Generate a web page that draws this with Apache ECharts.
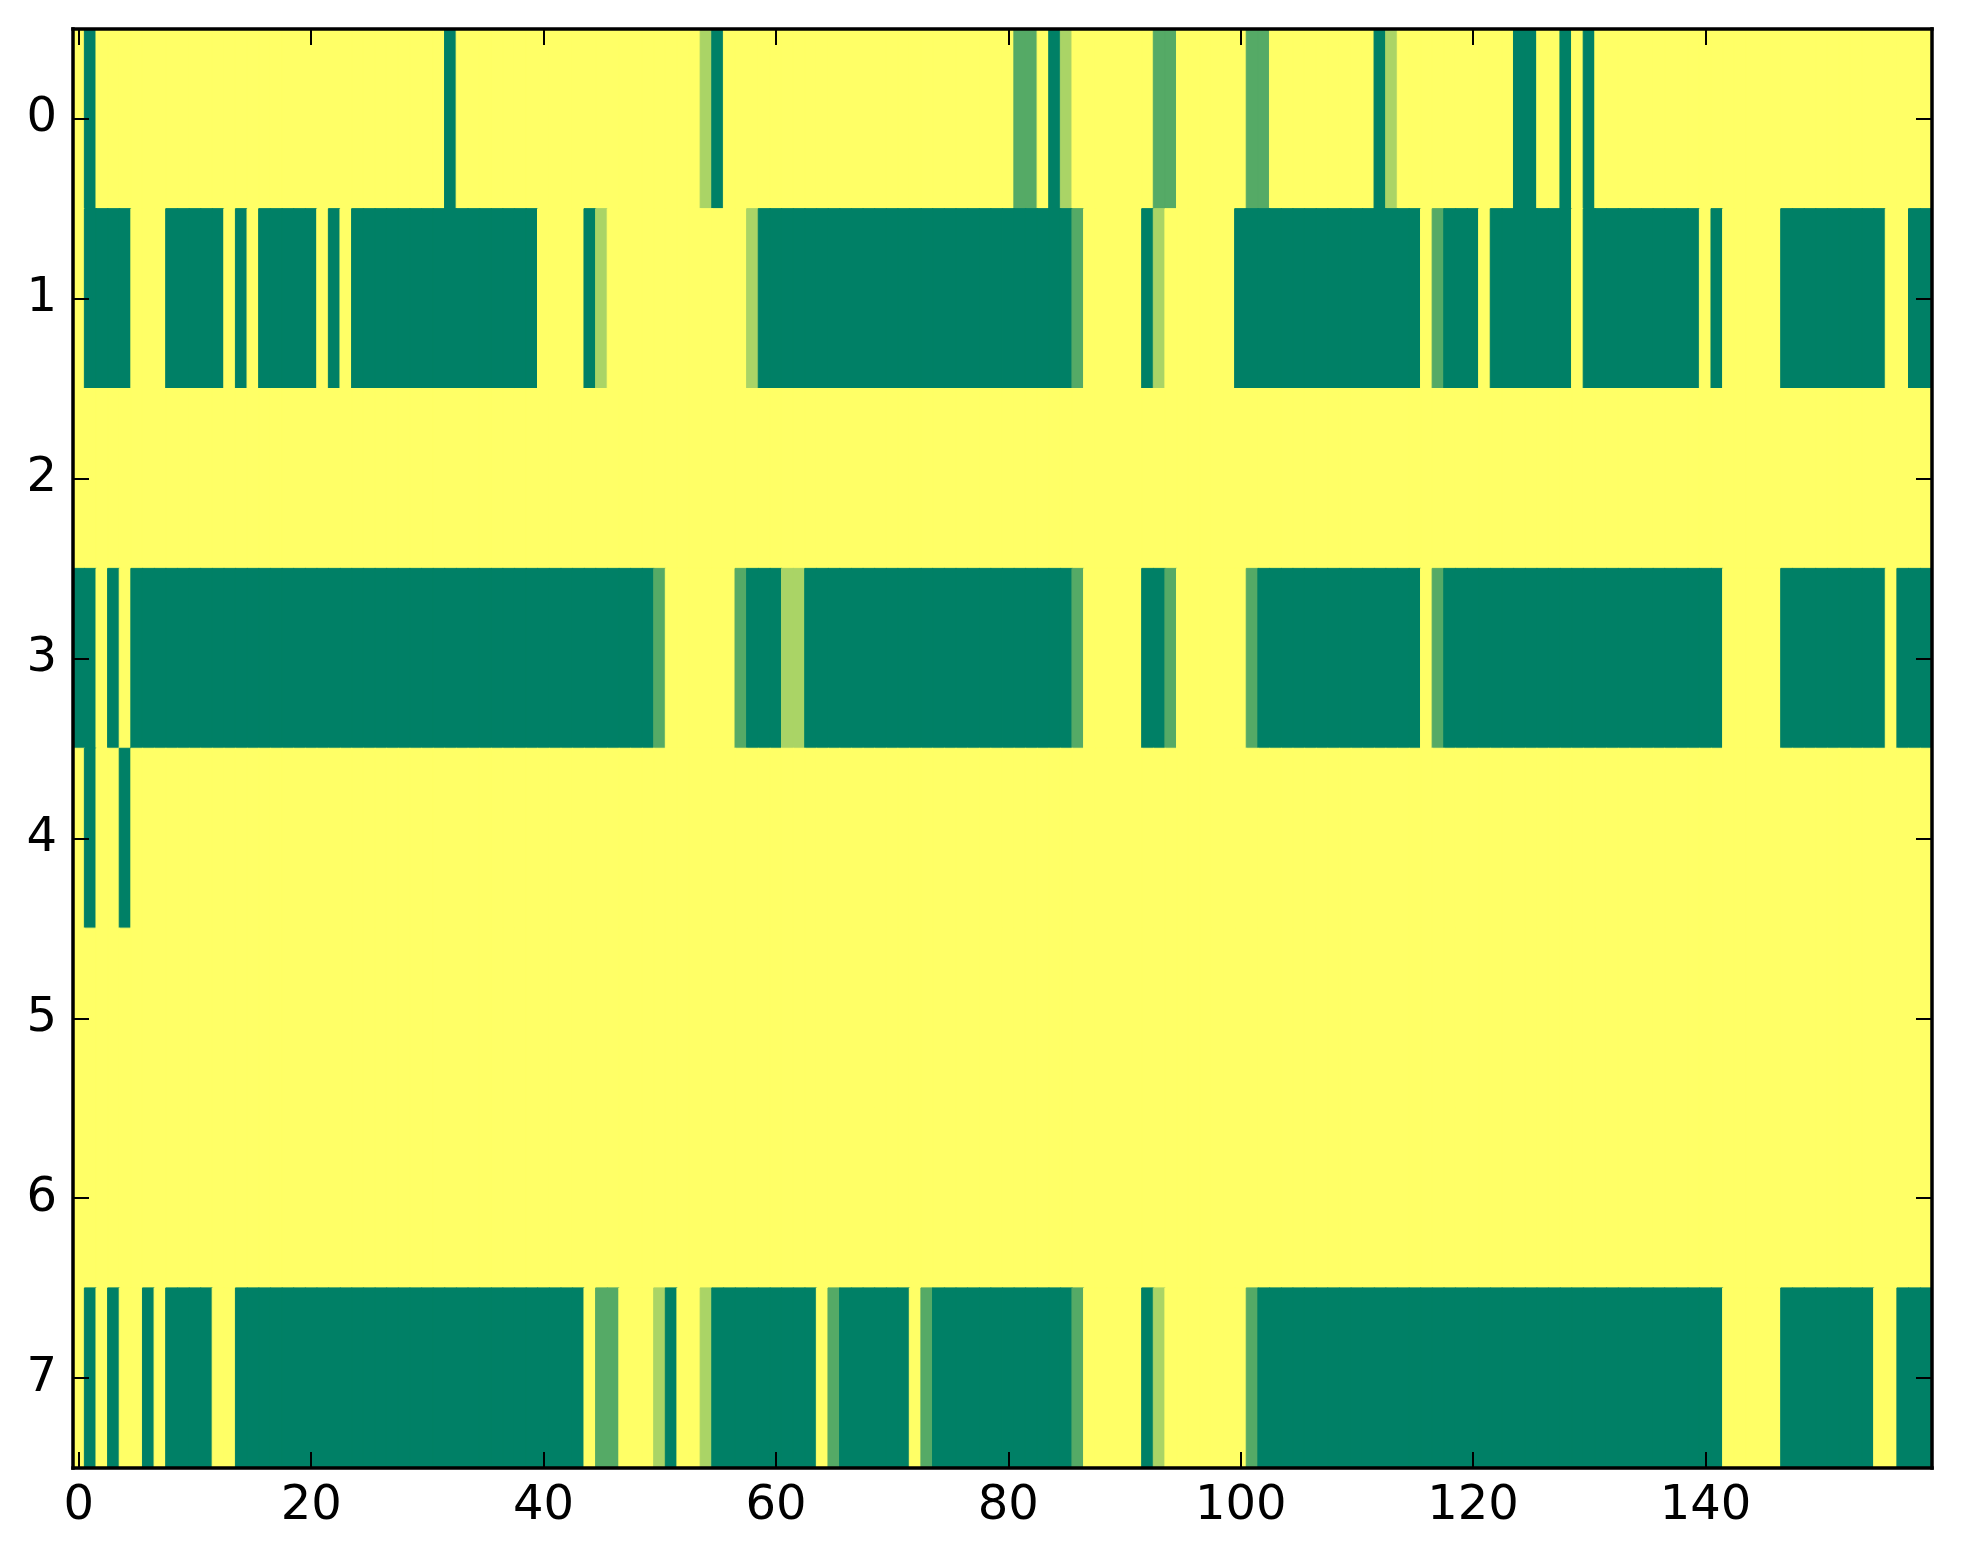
<!DOCTYPE html>
<html>
<head>
<meta charset="utf-8">
<script src="https://cdn.jsdelivr.net/npm/echarts@6/dist/echarts.min.js"></script>
<style>
html,body{margin:0;padding:0;background:#fff;}
#chart{width:1963px;height:1564px;}
</style>
</head>
<body>
<div id="chart"></div>
<script>
// Cell levels: 0 = darkest green ... 3 = yellow (summer colormap)
const row0 = [3,0,3,3,3,3,3,3,3,3, 3,3,3,3,3,3,3,3,3,3, 3,3,3,3,3,3,3,3,3,3, 3,3,0,3,3,3,3,3,3,3,
              3,3,3,3,3,3,3,3,3,3, 3,3,3,3,2,0,3,3,3,3, 3,3,3,3,3,3,3,3,3,3, 3,3,3,3,3,3,3,3,3,3,
              3,1,1,3,0,2,3,3,3,3, 3,3,3,1,1,3,3,3,3,3, 3,1,1,3,3,3,3,3,3,3, 3,3,0,2,3,3,3,3,3,3,
              3,3,3,3,0,0,3,3,0,3, 0,3,3,3,3,3,3,3,3,3, 3,3,3,3,3,3,3,3,3,3, 3,3,3,3,3,3,3,3,3,3];
const row1 = [3,0,0,0,0,3,3,3,0,0, 0,0,0,3,0,3,0,0,0,0, 0,3,0,3,0,0,0,0,0,0, 0,0,0,0,0,0,0,0,0,0,
              3,3,3,3,0,2,3,3,3,3, 3,3,3,3,3,3,3,3,2,0, 0,0,0,0,0,0,0,0,0,0, 0,0,0,0,0,0,0,0,0,0,
              0,0,0,0,0,0,1,3,3,3, 3,3,0,2,3,3,3,3,3,3, 0,0,0,0,0,0,0,0,0,0, 0,0,0,0,0,0,3,1,0,0,
              0,3,0,0,0,0,0,0,0,3, 0,0,0,0,0,0,0,0,0,0, 3,0,3,3,3,3,3,0,0,0, 0,0,0,0,0,0,3,3,0,0];
const row2 = [3,3,3,3,3,3,3,3,3,3, 3,3,3,3,3,3,3,3,3,3, 3,3,3,3,3,3,3,3,3,3, 3,3,3,3,3,3,3,3,3,3,
              3,3,3,3,3,3,3,3,3,3, 3,3,3,3,3,3,3,3,3,3, 3,3,3,3,3,3,3,3,3,3, 3,3,3,3,3,3,3,3,3,3,
              3,3,3,3,3,3,3,3,3,3, 3,3,3,3,3,3,3,3,3,3, 3,3,3,3,3,3,3,3,3,3, 3,3,3,3,3,3,3,3,3,3,
              3,3,3,3,3,3,3,3,3,3, 3,3,3,3,3,3,3,3,3,3, 3,3,3,3,3,3,3,3,3,3, 3,3,3,3,3,3,3,3,3,3];
const row3 = [0,0,3,0,3,0,0,0,0,0, 0,0,0,0,0,0,0,0,0,0, 0,0,0,0,0,0,0,0,0,0, 0,0,0,0,0,0,0,0,0,0,
              0,0,0,0,0,0,0,0,0,0, 1,3,3,3,3,3,3,1,0,0, 0,2,2,0,0,0,0,0,0,0, 0,0,0,0,0,0,0,0,0,0,
              0,0,0,0,0,0,1,3,3,3, 3,3,0,0,1,3,3,3,3,3, 3,1,0,0,0,0,0,0,0,0, 0,0,0,0,0,0,3,1,0,0,
              0,0,0,0,0,0,0,0,0,0, 0,0,0,0,0,0,0,0,0,0, 0,0,3,3,3,3,3,0,0,0, 0,0,0,0,0,0,3,0,0,0];
const row4 = [3,0,3,3,0,3,3,3,3,3, 3,3,3,3,3,3,3,3,3,3, 3,3,3,3,3,3,3,3,3,3, 3,3,3,3,3,3,3,3,3,3,
              3,3,3,3,3,3,3,3,3,3, 3,3,3,3,3,3,3,3,3,3, 3,3,3,3,3,3,3,3,3,3, 3,3,3,3,3,3,3,3,3,3,
              3,3,3,3,3,3,3,3,3,3, 3,3,3,3,3,3,3,3,3,3, 3,3,3,3,3,3,3,3,3,3, 3,3,3,3,3,3,3,3,3,3,
              3,3,3,3,3,3,3,3,3,3, 3,3,3,3,3,3,3,3,3,3, 3,3,3,3,3,3,3,3,3,3, 3,3,3,3,3,3,3,3,3,3];
const row5 = [3,3,3,3,3,3,3,3,3,3, 3,3,3,3,3,3,3,3,3,3, 3,3,3,3,3,3,3,3,3,3, 3,3,3,3,3,3,3,3,3,3,
              3,3,3,3,3,3,3,3,3,3, 3,3,3,3,3,3,3,3,3,3, 3,3,3,3,3,3,3,3,3,3, 3,3,3,3,3,3,3,3,3,3,
              3,3,3,3,3,3,3,3,3,3, 3,3,3,3,3,3,3,3,3,3, 3,3,3,3,3,3,3,3,3,3, 3,3,3,3,3,3,3,3,3,3,
              3,3,3,3,3,3,3,3,3,3, 3,3,3,3,3,3,3,3,3,3, 3,3,3,3,3,3,3,3,3,3, 3,3,3,3,3,3,3,3,3,3];
const row6 = [3,3,3,3,3,3,3,3,3,3, 3,3,3,3,3,3,3,3,3,3, 3,3,3,3,3,3,3,3,3,3, 3,3,3,3,3,3,3,3,3,3,
              3,3,3,3,3,3,3,3,3,3, 3,3,3,3,3,3,3,3,3,3, 3,3,3,3,3,3,3,3,3,3, 3,3,3,3,3,3,3,3,3,3,
              3,3,3,3,3,3,3,3,3,3, 3,3,3,3,3,3,3,3,3,3, 3,3,3,3,3,3,3,3,3,3, 3,3,3,3,3,3,3,3,3,3,
              3,3,3,3,3,3,3,3,3,3, 3,3,3,3,3,3,3,3,3,3, 3,3,3,3,3,3,3,3,3,3, 3,3,3,3,3,3,3,3,3,3];
const row7 = [3,0,3,0,3,3,0,3,0,0, 0,0,3,3,0,0,0,0,0,0, 0,0,0,0,0,0,0,0,0,0, 0,0,0,0,0,0,0,0,0,0,
              0,0,0,0,3,1,1,3,3,3, 2,0,3,3,2,0,0,0,0,0, 0,0,0,0,3,1,0,0,0,0, 0,0,3,1,0,0,0,0,0,0,
              0,0,0,0,0,0,1,3,3,3, 3,3,0,2,3,3,3,3,3,3, 3,1,0,0,0,0,0,0,0,0, 0,0,0,0,0,0,0,0,0,0,
              0,0,0,0,0,0,0,0,0,0, 0,0,0,0,0,0,0,0,0,0, 0,0,3,3,3,3,3,0,0,0, 0,0,0,0,0,3,3,0,0,0];

const rows = [row0, row1, row2, row3, row4, row5, row6, row7];
const yCategories = ['0','1','2','3','4','5','6','7'];
const xTickLabels = ['0','20','40','60','80','100','120','140'];
// summer colormap sampled at the four levels 0, 1/3, 2/3, 1
const levelColors = ['#008066', '#55aa66', '#aad466', '#ffff66'];

const xCategories = [];
for (let c = 0; c < row0.length; c++) xCategories.push(String(c));

const cells = [];
rows.forEach((row, r) => row.forEach((v, c) => {
  const col = levelColors[v];
  cells.push({ value: [c, r, v], itemStyle: { color: col, borderColor: col, borderWidth: 1 } });
}));

const isTick = (idx) => xTickLabels.indexOf(String(idx)) !== -1;
const FONT = 'DejaVu Sans';
const axisLine = { show: true, onZero: false, lineStyle: { color: '#000', width: 3.5, cap: 'square' } };
const tickStyle = { color: '#000', width: 2 };

const chart = echarts.init(document.getElementById('chart'), null, { renderer: 'canvas' });
chart.setOption({
  backgroundColor: '#ffffff',
  animation: false,
  grid: { left: 73, right: 31, top: 29, bottom: 96, containLabel: false },
  xAxis: [
    {
      type: 'category', data: xCategories, position: 'bottom', z: 10,
      axisLine: axisLine,
      axisTick: { show: true, inside: true, length: 16, alignWithLabel: true, interval: (i) => isTick(i), lineStyle: tickStyle },
      axisLabel: { show: true, interval: (i) => isTick(i), color: '#000', fontFamily: FONT, fontSize: 48, margin: 15 },
      splitLine: { show: false }
    },
    {
      type: 'category', data: xCategories, position: 'top', z: 10,
      axisLine: axisLine,
      axisTick: { show: true, inside: true, length: 16, alignWithLabel: true, interval: (i) => isTick(i), lineStyle: tickStyle },
      axisLabel: { show: false },
      splitLine: { show: false }
    }
  ],
  yAxis: [
    {
      type: 'category', data: yCategories, inverse: true, position: 'left', z: 10,
      axisLine: axisLine,
      axisTick: { show: true, inside: true, length: 16, alignWithLabel: true, lineStyle: tickStyle },
      axisLabel: { show: true, color: '#000', fontFamily: FONT, fontSize: 48, margin: 16 },
      splitLine: { show: false }
    },
    {
      type: 'category', data: yCategories, inverse: true, position: 'right', z: 10,
      axisLine: axisLine,
      axisTick: { show: true, inside: true, length: 16, alignWithLabel: true, lineStyle: tickStyle },
      axisLabel: { show: false },
      splitLine: { show: false }
    }
  ],
  series: [{
    type: 'heatmap',
    xAxisIndex: 0, yAxisIndex: 0,
    data: cells,
    progressive: 0,
    emphasis: { disabled: true },
    z: 1
  }]
});
</script>
</body>
</html>
